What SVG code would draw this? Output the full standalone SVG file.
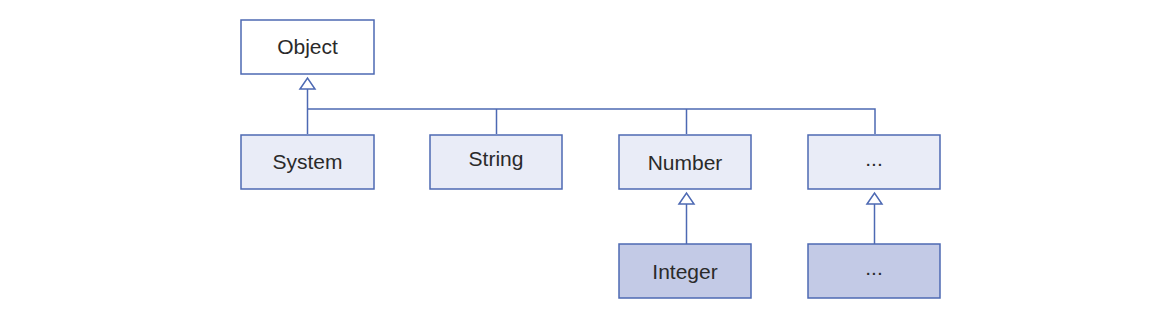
<svg xmlns="http://www.w3.org/2000/svg" width="1168" height="328" viewBox="0 0 1168 328">
<style>
.box{stroke:#4d69b3;stroke-width:1.5}
.top{fill:#ffffff}
.l1{fill:#e9ecf7}
.l2{fill:#c3cae6}
.t{font-family:"Liberation Sans",Arial,sans-serif;font-size:21px;fill:#2a2a2a;text-anchor:middle}
.c{fill:none;stroke:#4d69b3;stroke-width:1.5}
.arr{fill:#fff;stroke:#4d69b3;stroke-width:1.5}
</style>
<rect width="1168" height="328" fill="#fff"/>
<g id="connectors">
<path class="c" d="M307.5 89 V109 H875 V134 M496.5 109 V134 M686.5 109 V134 M307.5 109 V134"/>
<path class="arr" d="M300 89 L307.5 78 L315 89 Z"/>
<path class="c" d="M686.5 204 V244"/>
<path class="arr" d="M679 204 L686.5 193 L694 204 Z"/>
<path class="c" d="M874.5 204 V244"/>
<path class="arr" d="M867 204 L874.5 193 L882 204 Z"/>
</g>
<g id="object"><rect class="box top" x="241" y="20" width="133" height="54"/><text class="t" x="307.5" y="54">Object</text></g>
<g id="system"><rect class="box l1" x="241" y="135" width="133" height="54"/><text class="t" x="307.5" y="169">System</text></g>
<g id="string"><rect class="box l1" x="430" y="135" width="132" height="54"/><text class="t" x="496" y="166">String</text></g>
<g id="number"><rect class="box l1" x="619" y="135" width="132" height="54"/><text class="t" x="685" y="170">Number</text></g>
<g id="more1"><rect class="box l1" x="808" y="135" width="132" height="54"/><text class="t" x="874" y="166">...</text></g>
<g id="integer"><rect class="box l2" x="619" y="244" width="132" height="54"/><text class="t" x="685" y="279">Integer</text></g>
<g id="more2"><rect class="box l2" x="808" y="244" width="132" height="54"/><text class="t" x="874" y="275">...</text></g>
</svg>
